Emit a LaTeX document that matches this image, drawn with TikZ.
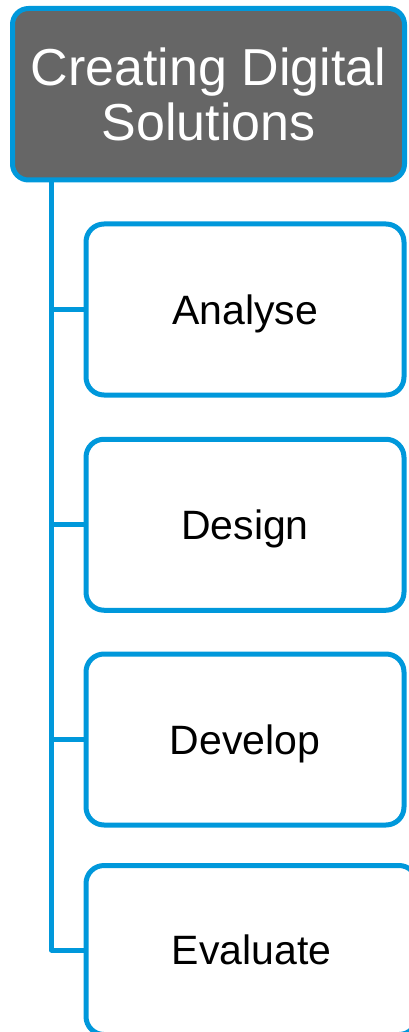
\documentclass[tikz,border=0pt]{standalone}
\usepackage{fontspec}
\setmainfont{Liberation Sans}
\definecolor{sblue}{RGB}{0,152,219}
\definecolor{sgray}{RGB}{102,102,102}
\begin{document}
\begin{tikzpicture}[x=1pt,y=-1pt,
  topbox/.style={draw=sblue, fill=sgray, line width=5pt, rounded corners=16pt,
    minimum width=392pt, minimum height=171.5pt, inner sep=0pt, text=white,
    font=\fontsize{52}{55}\selectfont, align=center},
  childbox/.style={draw=sblue, fill=white, line width=5pt, rounded corners=18pt,
    minimum width=318pt, minimum height=171pt, inner sep=0pt,
    text height=29.4pt, text depth=0pt, font=\fontsize{41}{45}\selectfont},
  link/.style={draw=sblue, line width=5pt, line join=round}]
\useasboundingbox (0,0) rectangle (409,1032);
\clip (0,0) rectangle (409,1032);
\coordinate (trunk) at (51.5,0);
\node[topbox] (root) at (208.5,94.25) {Creating Digital\\Solutions};
\node[childbox] (c1) at (245,309.5) {Analyse};
\node[childbox] (c2) at (245,524.75) {Design};
\node[childbox] (c3) at (245,739.5) {Develop};
\node[childbox, minimum width=331pt, minimum height=169pt] (c4) at (251.5,950) {Evaluate};
\draw[link] (root.south -| trunk) |- (c4.west);
\draw[link] (c1.west -| trunk) -- (c1.west);
\draw[link] (c2.west -| trunk) -- (c2.west);
\draw[link] (c3.west -| trunk) -- (c3.west);
\end{tikzpicture}
\end{document}
